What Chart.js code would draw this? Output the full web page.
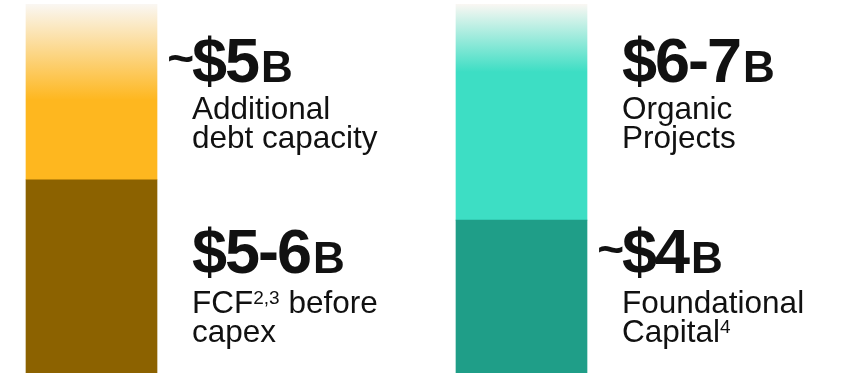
<!DOCTYPE html>
<html>
<head>
<meta charset="utf-8">
<script src="https://cdn.jsdelivr.net/npm/chart.js@4"></script>
<style>
  html, body { margin: 0; padding: 0; background: #fff; }
  #wrap { width: 844px; height: 373px; }
</style>
</head>
<body>
<div id="wrap"><canvas id="myChart"></canvas></div>
<script>
// two stacked columns: sources (left) and uses (right), values in $B
const columns = [0, 1];
const bottomValues = [5.5, 4.35];   // FCF before capex, Foundational capital
const topValues = [5.0, 6.15];      // Additional debt capacity, Organic projects

const topAmounts = ['~$5', '$6-7'];
const bottomAmounts = ['$5-6', '~$4'];
const topLines = [['Additional', 'debt capacity'], ['Organic', 'Projects']];
const bottomLines = [[['FCF', '2,3', ' before'], ['capex']], [['Foundational'], ['Capital', '4']]];

const bottomColors = ['#8c6200', '#1f9e88'];
const topColors = ['#feb71f', '#3ddec4'];
const fadeLength = [96, 68];

const FONT = '"Liberation Sans", Arial, sans-serif';
const ink = '#111111';

const fadeFill = (ctx) => {
  const chart = ctx.chart;
  const area = chart.chartArea;
  if (!area) return topColors[ctx.dataIndex];
  const y = chart.scales.y;
  const top = y.getPixelForValue(bottomValues[ctx.dataIndex] + topValues[ctx.dataIndex]);
  const g = chart.ctx.createLinearGradient(0, top, 0, top + fadeLength[ctx.dataIndex]);
  g.addColorStop(0, '#faf7f3');
  g.addColorStop(1, topColors[ctx.dataIndex]);
  return g;
};

const labelPlugin = {
  id: 'sideLabels',
  afterDatasetsDraw(chart) {
    const ctx = chart.ctx;
    const bars = chart.getDatasetMeta(0).data;
    ctx.save();
    ctx.fillStyle = ink;
    ctx.textBaseline = 'alphabetic';

    const bigText = (str, x, y) => {
      let s = str;
      if (s[0] === '~') {
        ctx.font = 'bold 46px ' + FONT;
        ctx.textAlign = 'right';
        ctx.fillText('~', x + 2, y - 8);
        s = s.slice(1);
      }
      ctx.font = 'bold 63px ' + FONT;
      ctx.textAlign = 'left';
      ctx.letterSpacing = '-2px';
      ctx.fillText(s, x, y);
      const w = ctx.measureText(s).width;
      ctx.letterSpacing = '0px';
      ctx.font = 'bold 44px ' + FONT;
      ctx.fillText('B', x + w + 3, y);
    };

    const lineText = (parts, x, y) => {
      let cx = x;
      ctx.textAlign = 'left';
      parts.forEach((p, i) => {
        const sup = i === 1 && /^[0-9,]+$/.test(p);
        ctx.font = (sup ? '19px ' : '31.5px ') + FONT;
        ctx.fillText(p, cx, sup ? y - 9 : y);
        cx += ctx.measureText(p).width;
      });
    };

    bars.forEach((bar, i) => {
      const x = bar.x + bar.width / 2 + 35;
      bigText(topAmounts[i], x, 82);
      lineText([topLines[i][0]], x, 119);
      lineText([topLines[i][1]], x, 148);
      bigText(bottomAmounts[i], x, 273);
      lineText(bottomLines[i][0], x, 313);
      lineText(bottomLines[i][1], x, 342);
    });
    ctx.restore();
  }
};

const total = bottomValues[0] + topValues[0];

new Chart(document.getElementById('myChart'), {
  type: 'bar',
  data: {
    datasets: [
      {
        label: 'base',
        data: columns.map((c, i) => ({ x: c, y: bottomValues[i] })),
        backgroundColor: bottomColors,
        borderWidth: 0
      },
      {
        label: 'extra',
        data: columns.map((c, i) => ({ x: c, y: topValues[i] })),
        backgroundColor: fadeFill,
        borderWidth: 0
      }
    ]
  },
  options: {
    responsive: true,
    maintainAspectRatio: false,
    animation: false,
    layout: { padding: { top: 4, left: 0, right: 0, bottom: 0 } },
    datasets: { bar: { barThickness: 131 } },
    plugins: { legend: { display: false }, tooltip: { enabled: false } },
    scales: {
      x: { type: 'linear', display: false, stacked: true, offset: false, bounds: 'ticks', min: -0.2128, max: 1.75 },
      y: { display: false, stacked: true, min: 0, max: total }
    }
  },
  plugins: [labelPlugin]
});
</script>
</body>
</html>
